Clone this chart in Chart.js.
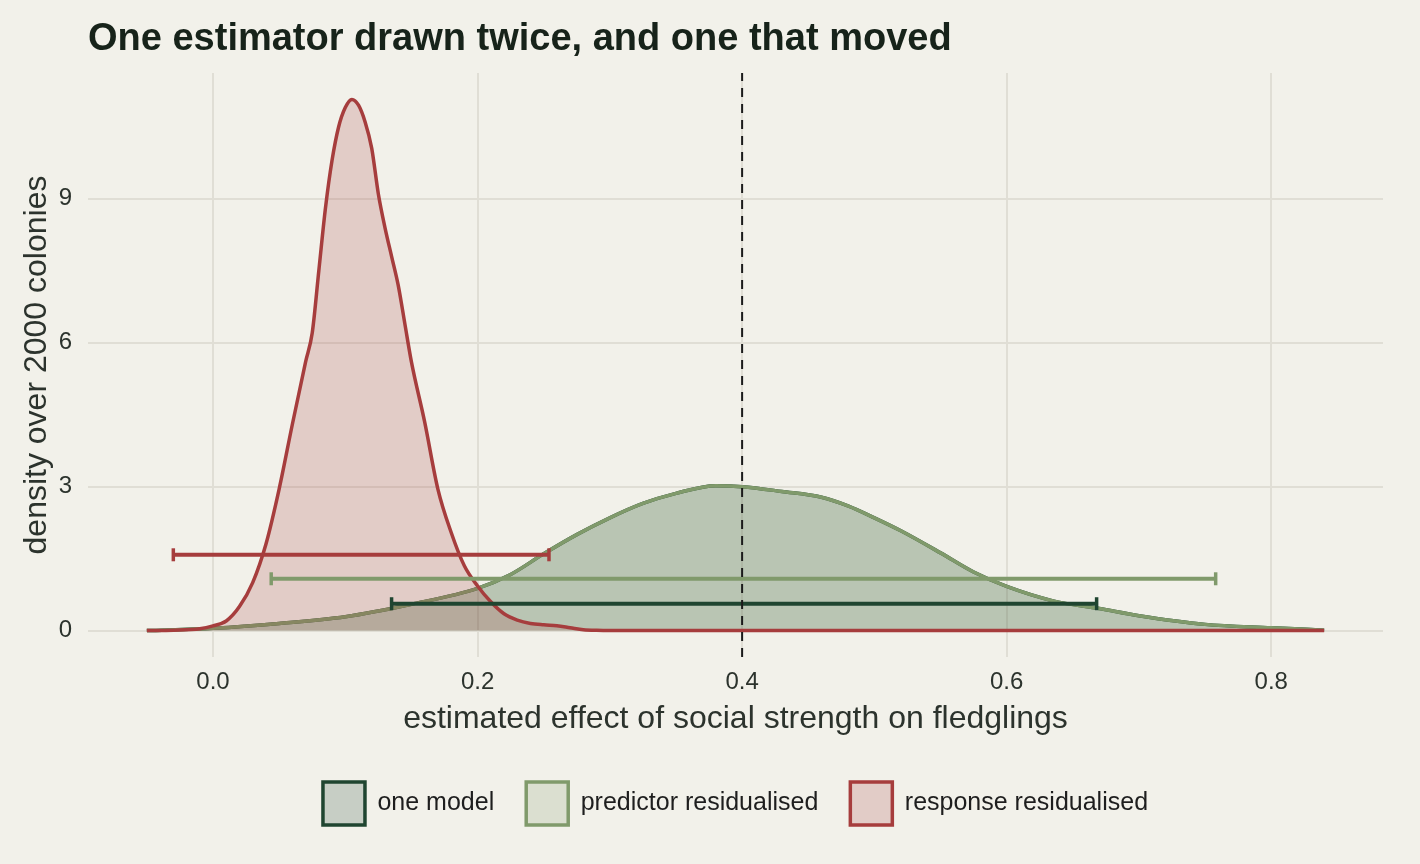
<!DOCTYPE html>
<html>
<head>
<meta charset="utf-8">
<script src="https://cdn.jsdelivr.net/npm/chart.js@4.4.1/dist/chart.umd.min.js"></script>
<style>
  html, body { margin: 0; padding: 0; background: #f2f1ea; }
  #wrap { width: 1420px; height: 864px; }
</style>
</head>
<body>
<div id="wrap"><canvas id="myChart" width="1420" height="864"></canvas></div>
<script>
// --- data ---
const seriesNames = ['one model', 'predictor residualised', 'response residualised'];

// one model and predictor residualised give the same density
const predictorX = [-0.05, 0.0, 0.05, 0.1, 0.15, 0.2, 0.225, 0.25, 0.275, 0.3, 0.325, 0.35, 0.38, 0.4,
  0.43, 0.46, 0.48, 0.5, 0.52, 0.55, 0.575, 0.6, 0.635, 0.67, 0.7, 0.75, 0.8, 0.84];
const predictorY = [0, 0.05, 0.15, 0.29, 0.55, 0.88, 1.17, 1.6, 2.0, 2.35, 2.65, 2.86, 3.02, 3.0,
  2.9, 2.78, 2.6, 2.35, 2.08, 1.62, 1.22, 0.92, 0.62, 0.46, 0.31, 0.13, 0.06, 0.01];

const responseX = [-0.05, -0.03, -0.01, 0.0, 0.01, 0.02, 0.03, 0.04, 0.05, 0.06, 0.07, 0.075, 0.08,
  0.085, 0.09, 0.095, 0.1, 0.105, 0.11, 0.115, 0.12, 0.125, 0.13, 0.135, 0.14, 0.145, 0.15, 0.16,
  0.17, 0.18, 0.19, 0.2, 0.21, 0.22, 0.23, 0.24, 0.25, 0.26, 0.27, 0.28, 0.29, 0.3, 0.4, 0.5, 0.6,
  0.7, 0.8, 0.84];
const responseY = [0, 0.01, 0.04, 0.1, 0.2, 0.5, 1.0, 1.8, 2.95, 4.3, 5.6, 6.2, 7.5,
  8.8, 9.8, 10.5, 10.9, 11.07, 10.95, 10.6, 10.05, 9.1, 8.4, 7.8, 7.2, 6.4, 5.6, 4.35,
  2.95, 2.05, 1.35, 0.93, 0.6, 0.35, 0.22, 0.15, 0.12, 0.1, 0.06, 0.02, 0.005, 0, 0, 0, 0,
  0, 0, 0];

// intervals: one model, predictor residualised, response residualised
const intervalLow = [0.135, 0.044, -0.030];
const intervalHigh = [0.668, 0.758, 0.254];
const intervalLevel = [0.56, 1.08, 1.58];

const referenceEffect = 0.4;
const xTicks = [0.0, 0.2, 0.4, 0.6, 0.8];
const yTicks = [0, 3, 6, 9];
const xLimits = [-0.0945, 0.8845];
const yLimits = [-0.55, 11.62];

const titleText = 'One estimator drawn twice, and one that moved';
const xTitle = 'estimated effect of social strength on fledglings';
const yTitle = 'density over 2000 colonies';

// --- styles ---
const lineColors = ['#1f4530', '#809a6b', '#a63d3d'];
const fillColors = ['rgba(31,69,48,0.2)', 'rgba(128,154,107,0.2)', 'rgba(166,61,61,0.2)'];
const FONT = '"Liberation Sans", Arial, Helvetica, sans-serif';
const TEXT = '#2c332d';

const toPoints = (xs, ys) => xs.map((x, i) => ({ x: x, y: ys[i] }));

const densitySets = [
  toPoints(predictorX, predictorY),
  toPoints(predictorX, predictorY),
  toPoints(responseX, responseY)
].map((pts, i) => ({
  label: seriesNames[i],
  data: pts,
  borderColor: lineColors[i],
  backgroundColor: fillColors[i],
  borderWidth: 3.5,
  fill: 'origin',
  pointRadius: 0,
  cubicInterpolationMode: 'monotone',
  order: 6 - i
}));

const intervalSets = intervalLow.map((lo, i) => ({
  label: seriesNames[i] + ' interval',
  data: [{ x: lo, y: intervalLevel[i] }, { x: intervalHigh[i], y: intervalLevel[i] }],
  borderColor: lineColors[i],
  borderWidth: 4,
  fill: false,
  pointStyle: 'line',
  pointRotation: 90,
  pointRadius: 6.5,
  pointHoverRadius: 6.5,
  pointBorderWidth: 3.5,
  pointBorderColor: lineColors[i],
  order: 3 - i
}));

const refLine = {
  label: 'reference',
  data: [{ x: referenceEffect, y: yLimits[0] }, { x: referenceEffect, y: yLimits[1] }],
  borderColor: '#1b1b1b',
  borderWidth: 2,
  borderDash: [9, 7],
  pointRadius: 0,
  fill: false,
  order: 0
};

const titlePlugin = {
  id: 'plotTitle',
  afterDraw(chart) {
    const { ctx, chartArea } = chart;
    ctx.save();
    ctx.font = 'bold 38px ' + FONT;
    ctx.fillStyle = '#17231a';
    ctx.textBaseline = 'alphabetic';
    ctx.textAlign = 'left';
    ctx.fillText(titleText, chartArea.left, 50);
    ctx.restore();
  }
};

new Chart(document.getElementById('myChart'), {
  type: 'line',
  data: { datasets: [...densitySets, ...intervalSets, refLine] },
  plugins: [titlePlugin],
  options: {
    responsive: false,
    animation: false,
    layout: { padding: { top: 73, right: 37, bottom: 29, left: 0 } },
    plugins: {
      tooltip: { enabled: false },
      legend: {
        position: 'bottom',
        fullSize: false,
        labels: {
          font: { family: FONT, size: 25 },
          color: '#1e1e1e',
          boxWidth: 42,
          boxHeight: 43,
          padding: 32,
          filter: item => item.datasetIndex < 3,
          sort: (a, b) => a.datasetIndex - b.datasetIndex
        }
      }
    },
    scales: {
      x: {
        type: 'linear',
        min: xLimits[0],
        max: xLimits[1],
        afterBuildTicks: s => { s.ticks = xTicks.map(v => ({ value: v })); },
        afterFit: s => { s.height = 93; },
        ticks: {
          callback: v => Number(v).toFixed(1),
          font: { family: FONT, size: 24 },
          color: TEXT,
          padding: 11
        },
        grid: { color: '#e0ded5', lineWidth: 2, drawTicks: false },
        border: { display: false },
        title: {
          display: true,
          text: xTitle,
          font: { family: FONT, size: 32 },
          color: TEXT,
          padding: { top: 0, bottom: 12 }
        }
      },
      y: {
        type: 'linear',
        min: yLimits[0],
        max: yLimits[1],
        afterBuildTicks: s => { s.ticks = yTicks.map(v => ({ value: v })); },
        afterFit: s => { s.width = 88; },
        ticks: {
          font: { family: FONT, size: 24 },
          color: TEXT,
          padding: 16
        },
        grid: { color: '#e0ded5', lineWidth: 2, drawTicks: false },
        border: { display: false },
        title: {
          display: true,
          text: yTitle,
          font: { family: FONT, size: 32 },
          color: TEXT,
          padding: { top: 18, bottom: 0 }
        }
      }
    }
  }
});
</script>
</body>
</html>
